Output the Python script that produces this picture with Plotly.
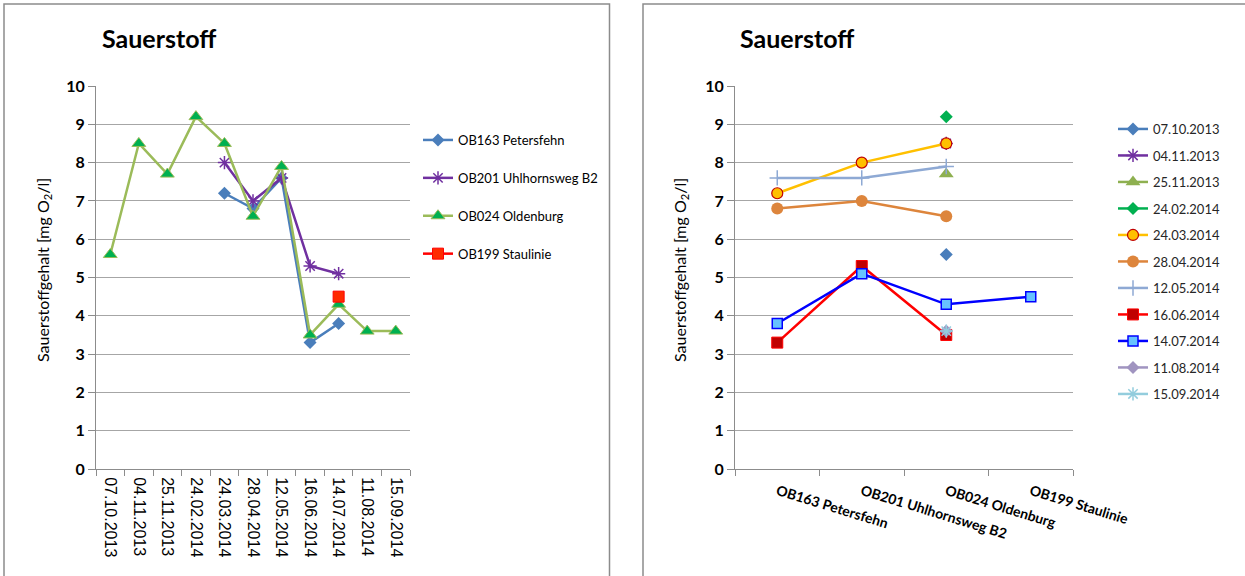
import plotly.graph_objects as go

# Measurement dates (sampling campaigns)
dates = ["07.10.2013", "04.11.2013", "25.11.2013", "24.02.2014", "24.03.2014",
         "28.04.2014", "12.05.2014", "16.06.2014", "14.07.2014", "11.08.2014",
         "15.09.2014"]

# Monitoring wells
stations = ["OB163 Petersfehn", "OB201 Uhlhornsweg B2", "OB024 Oldenburg", "OB199 Staulinie"]

# Oxygen content [mg O2/l] per well, one value per date (None = not sampled)
petersfehn = [None, None, None, None, 7.2, 6.8, 7.6, 3.3, 3.8, None, None]
uhlhornsweg = [None, None, None, None, 8.0, 7.0, 7.6, 5.3, 5.1, None, None]
oldenburg = [5.6, 8.5, 7.7, 9.2, 8.5, 6.6, 7.9, 3.5, 4.3, 3.6, 3.6]
staulinie = [None, None, None, None, None, None, None, None, 4.5, None, None]

y_ticks = [0, 1, 2, 3, 4, 5, 6, 7, 8, 9, 10]

W, H = 1245, 576
FONT = "Lato"
GRID = "#A6A6A6"
AXIS = "#8C8C8C"


def px(x):
    return x / W


def py(y):
    return 1 - y / H


fig = go.Figure()

# ---- left chart: time series per well ----
station_values = [petersfehn, uhlhornsweg, oldenburg, staulinie]
station_styles = [
    dict(line=dict(color="#4A7EBB", width=2.5),
         marker=dict(symbol="diamond", size=10, color="#4A7EBB")),
    dict(line=dict(color="#7030A0", width=2.5),
         marker=dict(symbol="asterisk-open", size=11, color="#7030A0",
                     line=dict(color="#7030A0", width=1.5))),
    dict(line=dict(color="#9BBB59", width=2.5),
         marker=dict(symbol="triangle-up", size=12, color="#00B050",
                     line=dict(color="#9BBB59", width=1))),
    dict(line=dict(color="#FF0000", width=2.5),
         marker=dict(symbol="square", size=11, color="#FF2A00",
                     line=dict(color="#FF0000", width=1))),
]
for i, (name, vals, st) in enumerate(zip(stations, station_values, station_styles)):
    fig.add_trace(go.Scatter(
        x=dates, y=vals, name=name, mode="lines+markers",
        xaxis="x", yaxis="y", legend="legend", legendgroup=f"s{i}",
        **st))

# ---- right chart: profile across wells per date ----
date_styles = [
    dict(line=dict(color="#4A7EBB", width=2.5),
         marker=dict(symbol="diamond", size=10, color="#4A7EBB")),
    dict(line=dict(color="#7030A0", width=2.5),
         marker=dict(symbol="asterisk-open", size=11, color="#7030A0",
                     line=dict(color="#B79BD9", width=1.5))),
    dict(line=dict(color="#8EB050", width=2.5),
         marker=dict(symbol="triangle-up", size=13, color="#8EB050")),
    dict(line=dict(color="#00B050", width=2.5),
         marker=dict(symbol="diamond", size=10, color="#00B050")),
    dict(line=dict(color="#FFC000", width=2.5),
         marker=dict(symbol="circle", size=11, color="#FFC000",
                     line=dict(color="#C00000", width=1.2))),
    dict(line=dict(color="#DD853C", width=2.5),
         marker=dict(symbol="circle", size=12, color="#DD853C")),
    dict(line=dict(color="#8EA9D4", width=2.5),
         marker=dict(symbol="cross-thin-open", size=11, color="#8EA9D4",
                     line=dict(color="#8EA9D4", width=1.5))),
    dict(line=dict(color="#FF0000", width=2.5),
         marker=dict(symbol="square", size=11, color="#C00000",
                     line=dict(color="#FF0000", width=1))),
    dict(line=dict(color="#0000FF", width=2.5),
         marker=dict(symbol="square", size=10, color="#66C2FF",
                     line=dict(color="#0000FF", width=1.5))),
    dict(line=dict(color="#A094C0", width=2.5),
         marker=dict(symbol="diamond", size=10, color="#A094C0")),
    dict(line=dict(color="#93CDDD", width=2.5),
         marker=dict(symbol="asterisk-open", size=11, color="#93CDDD",
                     line=dict(color="#93CDDD", width=1.5))),
]
for i, (d, st) in enumerate(zip(dates, date_styles)):
    vals = [v[i] for v in station_values]
    fig.add_trace(go.Scatter(
        x=stations, y=vals, name=d, mode="lines+markers",
        xaxis="x2", yaxis="y2", legend="legend2", legendgroup=f"d{i}",
        **st))

y_common = dict(range=[0, 10], tickvals=y_ticks, showgrid=True, gridcolor=GRID,
                gridwidth=1, showline=True, linecolor=AXIS, linewidth=1,
                ticks="outside", ticklen=7, tickcolor=AXIS, zeroline=False,
                automargin=False,
                tickfont=dict(family=FONT, size=16, color="#000000", weight="bold"),
                fixedrange=True)

fig.update_layout(
    template="none",
    width=W, height=H,
    autosize=False,
    margin=dict(l=0, r=0, t=0, b=0, pad=0, autoexpand=False),
    paper_bgcolor="white", plot_bgcolor="white",
    showlegend=True,
    xaxis=dict(domain=[px(96), px(410)], type="category", categoryorder="array",
               categoryarray=dates, tickangle=90, tickson="boundaries",
               ticks="outside", ticklen=6, tickcolor=AXIS, showline=True,
               linecolor=AXIS, linewidth=1, showgrid=False, anchor="y",
               automargin=False, fixedrange=True, ticklabelstandoff=4,
               tickfont=dict(family="Liberation Sans", size=16, color="#000000"),
               range=[-0.5, len(dates) - 0.5]),
    yaxis=dict(domain=[py(469), py(86)], anchor="x", **y_common),
    xaxis2=dict(domain=[px(735), px(1073)], type="category", categoryorder="array",
                categoryarray=stations, tickangle=17, tickson="boundaries",
                ticks="outside", ticklen=6, tickcolor=AXIS, showline=True,
                linecolor=AXIS, linewidth=1, showgrid=False, anchor="y2",
                automargin=False, fixedrange=True, ticklabelstandoff=8,
                tickfont=dict(family=FONT, size=14, color="#000000", weight="bold"),
                range=[-0.5, len(stations) - 0.5]),
    yaxis2=dict(domain=[py(469), py(86)], anchor="x2", **y_common),
    legend=dict(x=px(418), y=py(125), xanchor="left", yanchor="top",
                traceorder="grouped", tracegroupgap=18, itemwidth=30,
                bgcolor="rgba(0,0,0,0)", borderwidth=0,
                font=dict(family=FONT, size=13, color="#000000")),
    legend2=dict(x=px(1113), y=py(114), xanchor="left", yanchor="top",
                 traceorder="grouped", tracegroupgap=6.6, itemwidth=30,
                 bgcolor="rgba(0,0,0,0)", borderwidth=0,
                 font=dict(family=FONT, size=13, color="#262626")),
)

# chart frames (the right one continues past the window edge)
fig.add_shape(type="rect", xref="paper", yref="paper",
              x0=px(4), x1=px(609.5), y0=-0.05, y1=py(4),
              line=dict(color="#8C8C8C", width=1.5), fillcolor="rgba(0,0,0,0)")
fig.add_shape(type="path", xref="paper", yref="paper",
              path=f"M {px(643)},-0.05 L {px(643)},{py(4)} L 1,{py(4)}",
              line=dict(color="#8C8C8C", width=1.5))

# titles and axis titles
for tx, ax in [(100, 43), (738, 680)]:
    fig.add_annotation(text="<b>Sauerstoff</b>", xref="paper", yref="paper",
                       x=px(tx), y=py(38), xanchor="left", yanchor="middle",
                       showarrow=False, font=dict(family=FONT, size=25, color="#000000"))
    fig.add_annotation(text="Sauerstoffgehalt [mg O<sub>2</sub>/l]", xref="paper", yref="paper",
                       x=px(ax), y=py(270), xanchor="center", yanchor="middle",
                       textangle=-90, showarrow=False,
                       font=dict(family=FONT, size=16, color="#000000"))

fig.write_html("out.html")
